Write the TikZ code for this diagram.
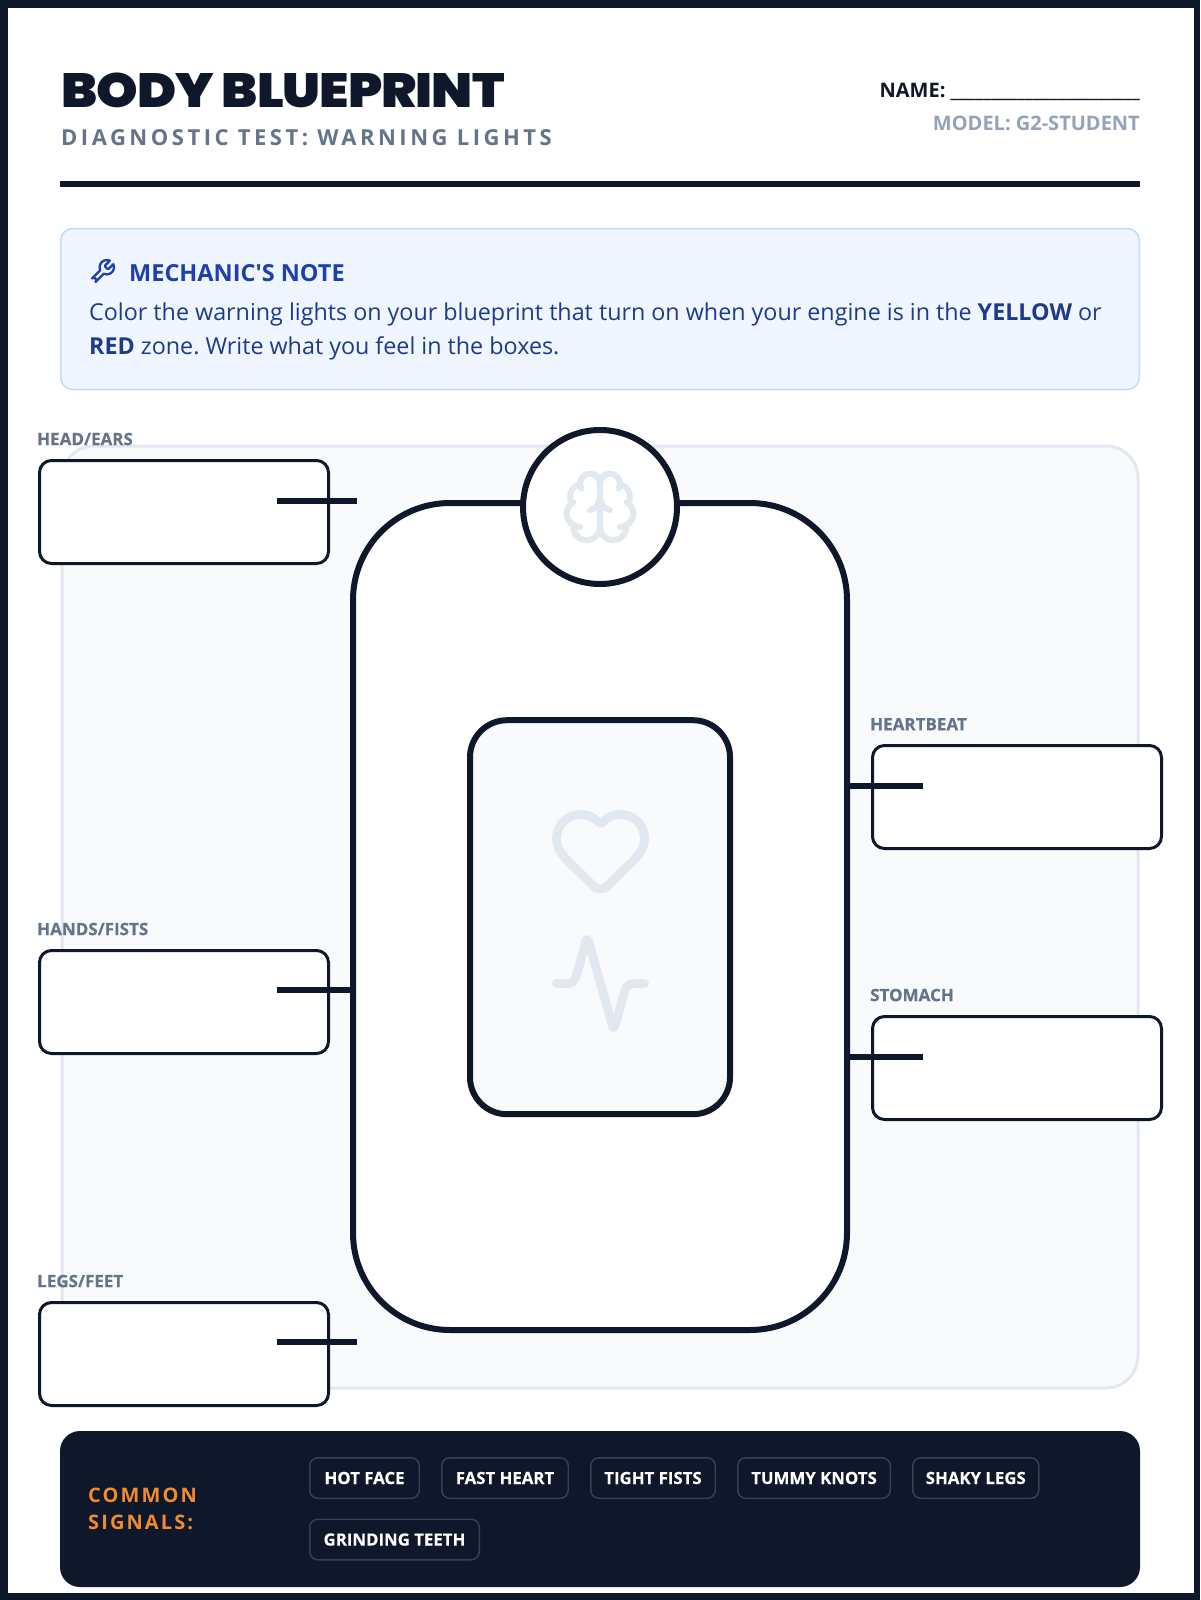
\documentclass[tikz,border=0pt]{standalone}
\usepackage{fontspec}
\setmainfont{Open Sans}[Ligatures=TeXOff]
\newfontfamily\titlefont{Poppins}[UprightFont={* Black}, FakeStretch=1.10]
\usepackage{tikz}
\usetikzlibrary{positioning, svg.path}
\definecolor{navy}{HTML}{0F172A}
\definecolor{slatetext}{HTML}{64748B}
\definecolor{slatelight}{HTML}{94A3B8}
\definecolor{noteback}{HTML}{EFF6FF}
\definecolor{noteline}{HTML}{BFDBFE}
\definecolor{notehead}{HTML}{1E40AF}
\definecolor{notetext}{HTML}{1E3A8A}
\definecolor{panelback}{HTML}{F8FAFC}
\definecolor{panelline}{HTML}{E2E8F0}
\definecolor{signalorange}{HTML}{F28A2E}
\definecolor{chipline}{HTML}{334155}

\begin{document}
\frenchspacing
\begin{tikzpicture}[
  x=1pt, y=-1pt,
  answerbox/.style={draw=navy, fill=white, line width=3pt, rounded corners=12pt,
                    minimum width=289pt, minimum height=103pt, inner sep=0pt, outer sep=0pt},
  partlabel/.style={font=\fontsize{17}{18}\selectfont\bfseries\addfontfeature{FakeBold=0.3},
                    text=slatetext, inner sep=0pt},
  chip/.style={draw=chipline, line width=1.5pt, rounded corners=8pt, text=white,
               font=\fontsize{16.8}{20}\selectfont\bfseries\addfontfeature{FakeBold=0.2},
               minimum height=40.5pt, inner sep=0pt},
  wire/.style={draw=navy, line width=6pt},
  icon/.style={draw=panelline, line cap=round, line join=round}
]
  \useasboundingbox (0,0) rectangle (1200,1600);
  \fill[navy] (0,0) rectangle (1200,1600);
  \fill[white] (8,8) rectangle (1194,1593);

  \node[anchor=west, inner sep=0pt, text=navy] (title) at (61,90)
    {\titlefont\fontsize{48}{50}\selectfont\addfontfeature{LetterSpace=-2}BODY BLUEPRINT};
  \node[anchor=west, inner sep=0pt, text=slatetext] (subtitle) at (61,137.5)
    {\fontsize{22}{24}\selectfont\bfseries\addfontfeature{LetterSpace=16}DIAGNOSTIC TEST: WARNING LIGHTS};
  \node[anchor=east, inner sep=0pt, text=navy] (name) at (1140,92)
    {\fontsize{20}{24}\selectfont\bfseries NAME: \_\_\_\_\_\_\_\_\_\_\_\_\_\_\_\_\_\_\_\_\_\_\_};
  \node[anchor=east, inner sep=0pt, text=slatelight] (model) at (1140,123)
    {\fontsize{20}{24}\selectfont\bfseries MODEL: G2-STUDENT};
  \fill[navy] (60,181) rectangle (1140,187);

  \node[draw=noteline, fill=noteback, line width=1.5pt, rounded corners=12pt, inner sep=0pt,
        minimum width=1078.5pt, minimum height=161pt] (note) at (600,309) {};
  \begin{scope}[shift={(87.6,257.6)}, scale=1.2, yscale=-1]
    \draw[draw=notehead, line width=2.3pt, line cap=round, line join=round]
      svg {M 14.7 6.3 a 1 1 0 0 0 0 1.4 l 1.6 1.6 a 1 1 0 0 0 1.4 0 l 3.77 -3.77 a 6 6 0 0 1 -7.94 7.94 l -6.91 6.91 a 2.12 2.12 0 0 1 -3 -3 l 6.91 -6.91 a 6 6 0 0 1 7.94 -7.94 l -3.76 3.76 z};
  \end{scope}
  \node[anchor=west, inner sep=0pt, text=notehead] (notetitle) at (129,273)
    {\fontsize{23.5}{28}\selectfont\bfseries MECHANIC'S NOTE};
  \node[anchor=north west, inner sep=0pt, text=notetext, align=left,
        font=\fontsize{23.3}{34}\selectfont] (notebody) at (89,303)
    {Color the warning lights on your blueprint that turn on when your engine is in the \textbf{YELLOW} or\\
     \textbf{RED} zone. Write what you feel in the boxes.};

  \node[draw=panelline, fill=panelback, line width=3pt, rounded corners=32pt, inner sep=0pt,
        minimum width=1076pt, minimum height=942pt] (panel) at (600,917) {};

  \node[draw=navy, fill=white, line width=6pt, rounded corners=97pt, inner sep=0pt, outer sep=0pt,
        minimum width=494pt, minimum height=827pt] (torso) at (600,916.5) {};
  \node[draw=navy, fill=panelback, line width=6pt, rounded corners=37pt, inner sep=0pt, outer sep=0pt,
        minimum width=260pt, minimum height=394pt] (chest) at (600,917.2) {};
  \node[circle, draw=navy, fill=white, line width=6pt, minimum size=154pt, inner sep=0pt, outer sep=0pt] (head) at (600,507) {};

  \begin{scope}[shift={(560,467)}, scale=3.33, yscale=-1]
    \path[icon, line width=6pt]
      svg {M 12 18 V 5}
      svg {M 15 13 a 4.17 4.17 0 0 1 -3 -4 a 4.17 4.17 0 0 1 -3 4}
      svg {M 17.598 6.5 A 3 3 0 1 0 12 5 a 3 3 0 1 0 -5.598 1.5}
      svg {M 17.997 5.125 a 4 4 0 0 1 2.526 5.77}
      svg {M 18 18 a 4 4 0 0 0 2 -7.464}
      svg {M 19.967 17.483 A 4 4 0 1 1 12 18 a 4 4 0 1 1 -7.967 -0.517}
      svg {M 6 18 a 4 4 0 0 1 -2 -7.464}
      svg {M 6.003 5.125 a 4 4 0 0 0 -2.526 5.77};
  \end{scope}
  \begin{scope}[shift={(547.7,796.8)}, scale=4.4, yscale=-1]
    \path[icon, line width=8.8pt]
      svg {M 2 9.5 a 5.5 5.5 0 0 1 9.591 -3.676 a 0.56 0.56 0 0 0 0.818 0 A 5.49 5.49 0 0 1 22 9.5 c 0 2.29 -1.5 4 -3 5.5 l -5.492 5.313 a 2 2 0 0 1 -3 0.019 L 5 15 c -1.5 -1.5 -3 -3.2 -3 -5.5};
  \end{scope}
  \begin{scope}[shift={(547.7,930.7)}, scale=4.4, yscale=-1]
    \path[icon, line width=8.8pt]
      svg {M 22 12 h -2.48 a 2 2 0 0 0 -1.93 1.46 l -2.35 8.36 a 0.25 0.25 0 0 1 -0.48 0 L 9.24 2.18 a 0.25 0.25 0 0 0 -0.48 0 l -2.35 8.36 A 2 2 0 0 1 4.49 12 H 2};
  \end{scope}

  \node[answerbox] (boxhead)  at (184,512)  {};
  \node[answerbox] (boxhands) at (184,1002) {};
  \node[answerbox] (boxlegs)  at (184,1354) {};
  \node[answerbox] (boxheart) at (1017,797) {};
  \node[answerbox] (boxbelly) at (1017,1068) {};

  \node[partlabel, above right=15pt and -2.5pt of boxhead.north west]  (lblhead)  {HEAD/EARS};
  \node[partlabel, above right=15pt and -2.5pt of boxhands.north west] (lblhands) {HANDS/FISTS};
  \node[partlabel, above right=15pt and -2.5pt of boxlegs.north west]  (lbllegs)  {LEGS/FEET};
  \node[partlabel, above right=15pt and -2.5pt of boxheart.north west] (lblheart) {HEARTBEAT};
  \node[partlabel, above right=15pt and -2.5pt of boxbelly.north west] (lblbelly) {STOMACH};

  \coordinate (headin)  at (277,500.5);
  \coordinate (headout) at (357,500.5);
  \coordinate (handsin) at (277,990);
  \coordinate (legsin)  at (277,1342);
  \coordinate (legsout) at (357,1342);
  \coordinate (heartin) at (923,785.5);
  \coordinate (bellyin) at (923,1057);
  \draw[wire] (headin) -- (headout);
  \draw[wire] (handsin) -- (handsin -| torso.west);
  \draw[wire] (legsin) -- (legsout);
  \draw[wire] (heartin) -- (heartin -| torso.east);
  \draw[wire] (bellyin) -- (bellyin -| torso.east);

  \node[fill=navy, rounded corners=20pt, inner sep=0pt, minimum width=1080pt, minimum height=156pt] (band) at (600,1509) {};
  \node[anchor=west, inner sep=0pt, text=signalorange, align=left,
        font=\fontsize{20}{27}\selectfont\bfseries\addfontfeature{LetterSpace=10.5}] (signals) at (88,1509)
    {COMMON\\SIGNALS:};
  \node[chip, minimum width=109.5pt, anchor=north west] (chipface) at (309,1457) {HOT FACE};
  \node[chip, minimum width=126.5pt, right=21pt of chipface] (chipheart) {FAST HEART};
  \node[chip, minimum width=124.5pt, right=21pt of chipheart] (chipfists) {TIGHT FISTS};
  \node[chip, minimum width=152.5pt, right=21pt of chipfists] (chipknots) {TUMMY KNOTS};
  \node[chip, minimum width=126pt, right=21pt of chipknots] (chiplegs) {SHAKY LEGS};
  \node[chip, minimum width=169.5pt, below=19.5pt of chipface.south west, anchor=north west] (chipteeth) {GRINDING TEETH};
\end{tikzpicture}
\end{document}
